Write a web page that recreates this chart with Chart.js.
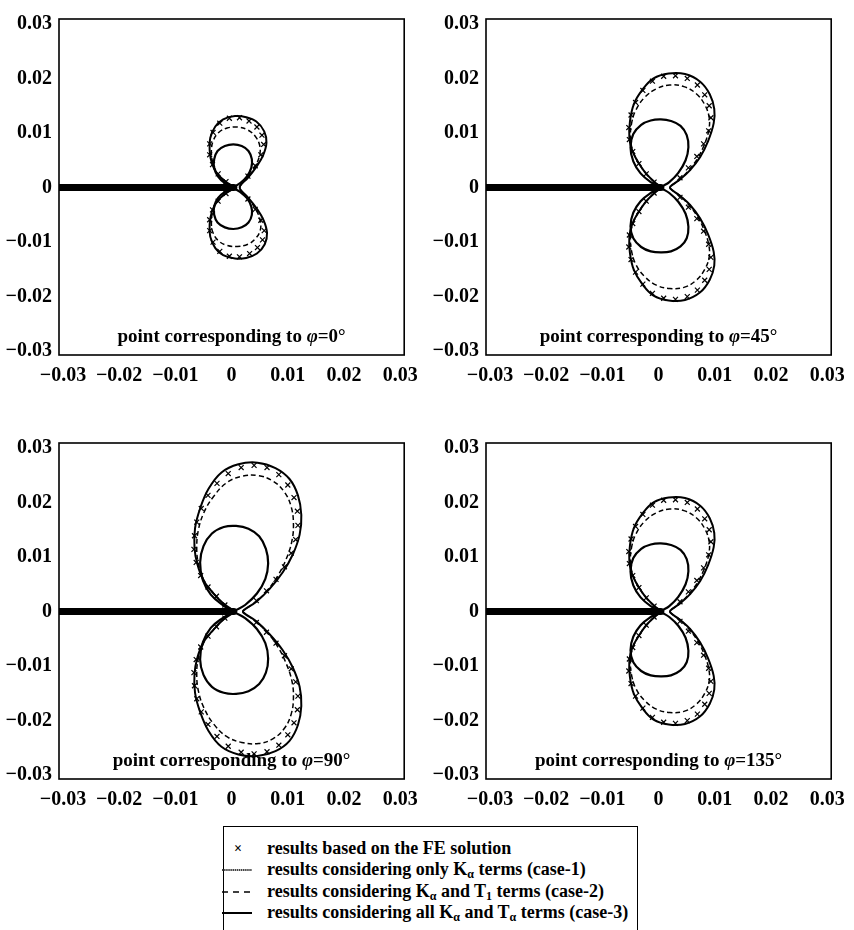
<!DOCTYPE html>
<html>
<head>
<meta charset="utf-8">
<script src="https://cdn.jsdelivr.net/npm/chart.js@4.4.0/dist/chart.umd.min.js"></script>
<style>
    body { margin: 0; background: #fff; overflow: hidden; width: 854px; height: 930px; position: relative;
           font-family: "Liberation Serif", "Times New Roman", serif; color: #000; }
    canvas { position: absolute; }
    #legend { position: absolute; left: 223px; top: 826px; width: 413px; height: 120px;
              border: 1.5px solid #000; border-bottom: none; font-weight: bold; font-size: 18px; }
    .row { position: absolute; left: 0; width: 100%; height: 21px; line-height: 21px; }
    .sample { position: absolute; left: -2px; top: 0; width: 32px; height: 21px; overflow: hidden; }
    .txt { position: absolute; left: 43px; top: 0; white-space: nowrap; }
    sub { font-size: 12px; line-height: 0; vertical-align: -3px; }
</style>
</head>
<body>
<canvas id="p0" width="427" height="390" style="left:0;top:0"></canvas>
<canvas id="p45" width="427" height="390" style="left:427px;top:0"></canvas>
<canvas id="p90" width="427" height="390" style="left:0;top:424px"></canvas>
<canvas id="p135" width="427" height="390" style="left:427px;top:424px"></canvas>

<div id="legend">
    <div class="row" style="top:11px">
        <div class="sample" style="text-align:center;font-size:14px">×</div>
        <div class="txt">results based on the FE solution</div>
    </div>
    <div class="row" style="top:32px">
        <svg class="sample" width="32" height="21" viewBox="0 0 32 21"><line x1="0" y1="11" x2="30" y2="11" stroke="#444" stroke-width="2.2" stroke-dasharray="1.5,0.6"/></svg>
        <div class="txt">results considering only K<sub>α</sub> terms (case-1)</div>
    </div>
    <div class="row" style="top:54px">
        <svg class="sample" width="32" height="21" viewBox="0 0 32 21"><line x1="0" y1="11" x2="32" y2="11" stroke="#000" stroke-width="1.6" stroke-dasharray="6,5"/></svg>
        <div class="txt">results considering K<sub>α</sub> and T<sub>1</sub> terms (case-2)</div>
    </div>
    <div class="row" style="top:75px">
        <svg class="sample" width="32" height="21" viewBox="0 0 32 21"><line x1="0" y1="11" x2="30" y2="11" stroke="#000" stroke-width="2"/></svg>
        <div class="txt">results considering all K<sub>α</sub> and T<sub>α</sub> terms (case-3)</div>
    </div>
</div>

<script>
// Axis ticks (same on every panel)
const tickValues = [-0.03, -0.02, -0.01, 0, 0.01, 0.02, 0.03];
const tickLabels = ['−0.03', '−0.02', '−0.01', '0', '0.01', '0.02', '0.03'];

// Crack faces behind the tip
const crack = [[-0.0307, 0], [0.0004, 0]];

// φ = 0°
const phi0Case1 = [[0.0003,0.0001],[-0.0012,0.0008],[-0.0024,0.0020],[-0.0031,0.0036],[-0.0031,0.0052],[-0.0025,0.0067],[-0.0012,0.0076],[0.0003,0.0079],[0.0018,0.0076],[0.0030,0.0067],[0.0036,0.0052],[0.0035,0.0036],[0.0027,0.0020],[0.0015,0.0008],[0.0004,0.0001],
    [0.0004,-0.0001],[0.0015,-0.0008],[0.0027,-0.0019],[0.0035,-0.0035],[0.0036,-0.0050],[0.0030,-0.0064],[0.0018,-0.0073],[0.0003,-0.0076],[-0.0012,-0.0073],[-0.0025,-0.0064],[-0.0031,-0.0050],[-0.0031,-0.0034],[-0.0024,-0.0019],[-0.0012,-0.0008],[0.0003,-0.0001]];
const phi0Case2 = [[0.0003,0.0002],[-0.0012,0.0012],[-0.0025,0.0026],[-0.0033,0.0044],[-0.0036,0.0066],[-0.0033,0.0085],[-0.0023,0.0101],[-0.0008,0.0109],[0.0010,0.0111],[0.0028,0.0106],[0.0042,0.0094],[0.0050,0.0077],[0.0050,0.0060],[0.0043,0.0041],[0.0031,0.0022],[0.0016,0.0004],
    [0.0016,-0.0004],[0.0031,-0.0022],[0.0044,-0.0042],[0.0051,-0.0061],[0.0051,-0.0078],[0.0043,-0.0093],[0.0029,-0.0104],[0.0010,-0.0108],[-0.0008,-0.0106],[-0.0023,-0.0098],[-0.0033,-0.0083],[-0.0036,-0.0064],[-0.0033,-0.0043],[-0.0025,-0.0025],[-0.0012,-0.0012],[0.0003,-0.0002]];
const phi0Case3 = [[0.0003,0.0002],[-0.0012,0.0012],[-0.0026,0.0026],[-0.0035,0.0044],[-0.0039,0.0068],[-0.0038,0.0091],[-0.0029,0.0112],[-0.0015,0.0125],[0.0006,0.0131],[0.0026,0.0129],[0.0044,0.0121],[0.0058,0.0103],[0.0062,0.0082],[0.0056,0.0059],[0.0044,0.0038],[0.0029,0.0018],[0.0015,0.0003],
    [0.0015,-0.0003],[0.0029,-0.0018],[0.0045,-0.0039],[0.0057,-0.0060],[0.0063,-0.0083],[0.0059,-0.0104],[0.0045,-0.0121],[0.0026,-0.0129],[0.0006,-0.0130],[-0.0015,-0.0124],[-0.0029,-0.0111],[-0.0038,-0.0090],[-0.0039,-0.0067],[-0.0035,-0.0044],[-0.0026,-0.0026],[-0.0012,-0.0012],[0.0003,-0.0002]];
const phi0FE = [[-0.0010,0.0011],[-0.0024,0.0025],[-0.0034,0.0042],[-0.0039,0.0060],[-0.0039,0.0080],[-0.0033,0.0101],[-0.0021,0.0118],[-0.0004,0.0127],[0.0014,0.0128],[0.0031,0.0122],[0.0045,0.0111],[0.0054,0.0096],[0.0057,0.0079],[0.0052,0.0060],[0.0042,0.0040],[0.0029,0.0021],
    [0.0029,-0.0021],[0.0042,-0.0040],[0.0052,-0.0060],[0.0058,-0.0079],[0.0055,-0.0096],[0.0046,-0.0110],[0.0032,-0.0121],[0.0014,-0.0127],[-0.0004,-0.0126],[-0.0021,-0.0117],[-0.0033,-0.0100],[-0.0039,-0.0079],[-0.0039,-0.0059],[-0.0034,-0.0041],[-0.0024,-0.0025],[-0.0010,-0.0011]];

// φ = 45° (φ = 135° reads the same)
const phi45Case1 = [[0.0003,0.0001],[-0.0014,0.0010],[-0.0032,0.0026],[-0.0045,0.0048],[-0.0050,0.0074],[-0.0045,0.0098],[-0.0031,0.0115],[-0.0014,0.0123],[0.0004,0.0125],[0.0022,0.0122],[0.0039,0.0113],[0.0050,0.0096],[0.0053,0.0074],[0.0048,0.0050],[0.0035,0.0027],[0.0019,0.0010],[0.0005,0.0001],
    [0.0005,-0.0001],[0.0019,-0.0010],[0.0035,-0.0026],[0.0048,-0.0048],[0.0053,-0.0072],[0.0050,-0.0093],[0.0039,-0.0108],[0.0022,-0.0117],[0.0004,-0.0119],[-0.0014,-0.0117],[-0.0031,-0.0109],[-0.0045,-0.0093],[-0.0050,-0.0071],[-0.0045,-0.0046],[-0.0032,-0.0025],[-0.0014,-0.0010],[0.0003,-0.0001]];
const phi45Case2 = [[0.0003,0.0002],[-0.0006,0.0009],[-0.0021,0.0024],[-0.0035,0.0044],[-0.0046,0.0068],[-0.0050,0.0091],[-0.0048,0.0118],[-0.0040,0.0143],[-0.0025,0.0165],[-0.0004,0.0181],[0.0020,0.0188],[0.0045,0.0185],[0.0067,0.0172],[0.0082,0.0152],[0.0090,0.0128],[0.0089,0.0104],[0.0081,0.0078],[0.0069,0.0053],[0.0053,0.0031],[0.0037,0.0014],[0.0021,0.0002],
    [0.0021,-0.0002],[0.0037,-0.0014],[0.0053,-0.0031],[0.0069,-0.0053],[0.0081,-0.0078],[0.0089,-0.0104],[0.0090,-0.0127],[0.0082,-0.0150],[0.0067,-0.0170],[0.0045,-0.0183],[0.0020,-0.0185],[-0.0004,-0.0179],[-0.0025,-0.0163],[-0.0040,-0.0142],[-0.0048,-0.0117],[-0.0050,-0.0090],[-0.0046,-0.0067],[-0.0035,-0.0044],[-0.0021,-0.0024],[-0.0006,-0.0009],[0.0003,-0.0002]];
const phi45Case3 = [[0.0003,0.0002],[-0.0006,0.0009],[-0.0021,0.0024],[-0.0035,0.0044],[-0.0047,0.0068],[-0.0052,0.0091],[-0.0051,0.0121],[-0.0044,0.0153],[-0.0029,0.0179],[-0.0009,0.0200],[0.0018,0.0209],[0.0047,0.0208],[0.0074,0.0194],[0.0091,0.0171],[0.0099,0.0144],[0.0098,0.0118],[0.0088,0.0085],[0.0074,0.0056],[0.0056,0.0032],[0.0038,0.0015],[0.0021,0.0002],
    [0.0021,-0.0002],[0.0038,-0.0015],[0.0056,-0.0032],[0.0074,-0.0057],[0.0088,-0.0086],[0.0098,-0.0118],[0.0099,-0.0143],[0.0091,-0.0169],[0.0074,-0.0192],[0.0047,-0.0206],[0.0018,-0.0207],[-0.0009,-0.0198],[-0.0029,-0.0177],[-0.0044,-0.0151],[-0.0051,-0.0120],[-0.0052,-0.0090],[-0.0047,-0.0067],[-0.0035,-0.0044],[-0.0021,-0.0024],[-0.0006,-0.0009],[0.0003,-0.0002]];
const phi45FE = [[-0.0008,0.0010],[-0.0022,0.0025],[-0.0035,0.0044],[-0.0046,0.0066],[-0.0052,0.0088],[-0.0053,0.0110],[-0.0049,0.0133],[-0.0041,0.0156],[-0.0028,0.0178],[-0.0011,0.0195],[0.0009,0.0204],[0.0030,0.0205],[0.0051,0.0200],[0.0069,0.0188],[0.0082,0.0170],[0.0090,0.0150],[0.0093,0.0128],[0.0089,0.0104],[0.0080,0.0080],[0.0068,0.0057],[0.0053,0.0036],[0.0038,0.0018],
    [0.0038,-0.0018],[0.0053,-0.0036],[0.0068,-0.0057],[0.0080,-0.0080],[0.0089,-0.0104],[0.0093,-0.0128],[0.0090,-0.0150],[0.0082,-0.0170],[0.0069,-0.0188],[0.0051,-0.0200],[0.0030,-0.0205],[0.0009,-0.0203],[-0.0011,-0.0194],[-0.0028,-0.0177],[-0.0041,-0.0155],[-0.0049,-0.0132],[-0.0053,-0.0109],[-0.0052,-0.0087],[-0.0046,-0.0066],[-0.0035,-0.0044],[-0.0022,-0.0025],[-0.0008,-0.0010]];

// φ = 90°
const phi90Case1 = [[0.0003,0.0001],[-0.0016,0.0012],[-0.0037,0.0031],[-0.0051,0.0057],[-0.0056,0.0090],[-0.0050,0.0120],[-0.0035,0.0143],[-0.0014,0.0155],[0.0008,0.0157],[0.0030,0.0152],[0.0049,0.0138],[0.0061,0.0115],[0.0065,0.0088],[0.0060,0.0060],[0.0045,0.0033],[0.0024,0.0012],[0.0005,0.0001],
    [0.0005,-0.0001],[0.0024,-0.0012],[0.0045,-0.0032],[0.0060,-0.0058],[0.0065,-0.0086],[0.0061,-0.0112],[0.0049,-0.0133],[0.0030,-0.0146],[0.0008,-0.0151],[-0.0014,-0.0149],[-0.0035,-0.0138],[-0.0050,-0.0116],[-0.0056,-0.0088],[-0.0051,-0.0056],[-0.0037,-0.0030],[-0.0016,-0.0012],[0.0003,-0.0001]];
const phi90Case2 = [[0.0003,0.0002],[-0.0015,0.0015],[-0.0032,0.0033],[-0.0049,0.0057],[-0.0059,0.0087],[-0.0062,0.0117],[-0.0059,0.0150],[-0.0049,0.0182],[-0.0032,0.0211],[-0.0009,0.0236],[0.0018,0.0248],[0.0048,0.0249],[0.0074,0.0239],[0.0094,0.0219],[0.0106,0.0192],[0.0110,0.0160],[0.0107,0.0128],[0.0097,0.0096],[0.0083,0.0067],[0.0064,0.0039],[0.0042,0.0017],[0.0021,0.0002],
    [0.0021,-0.0002],[0.0042,-0.0017],[0.0064,-0.0039],[0.0083,-0.0066],[0.0097,-0.0095],[0.0107,-0.0126],[0.0110,-0.0157],[0.0106,-0.0188],[0.0094,-0.0214],[0.0074,-0.0233],[0.0048,-0.0242],[0.0018,-0.0240],[-0.0009,-0.0229],[-0.0032,-0.0206],[-0.0049,-0.0177],[-0.0059,-0.0146],[-0.0062,-0.0114],[-0.0059,-0.0085],[-0.0049,-0.0056],[-0.0032,-0.0033],[-0.0015,-0.0015],[0.0003,-0.0002]];
const phi90Case3 = [[0.0003,0.0002],[-0.0015,0.0015],[-0.0032,0.0033],[-0.0050,0.0057],[-0.0061,0.0087],[-0.0066,0.0117],[-0.0065,0.0153],[-0.0056,0.0189],[-0.0041,0.0225],[-0.0018,0.0255],[0.0012,0.0270],[0.0046,0.0273],[0.0078,0.0263],[0.0103,0.0243],[0.0118,0.0213],[0.0124,0.0177],[0.0121,0.0141],[0.0109,0.0105],[0.0091,0.0072],[0.0068,0.0042],[0.0044,0.0018],[0.0021,0.0002],
    [0.0021,-0.0002],[0.0044,-0.0018],[0.0068,-0.0042],[0.0091,-0.0071],[0.0109,-0.0103],[0.0121,-0.0138],[0.0124,-0.0173],[0.0118,-0.0208],[0.0103,-0.0237],[0.0078,-0.0256],[0.0046,-0.0265],[0.0012,-0.0262],[-0.0018,-0.0248],[-0.0041,-0.0219],[-0.0056,-0.0184],[-0.0065,-0.0149],[-0.0066,-0.0114],[-0.0061,-0.0085],[-0.0050,-0.0056],[-0.0032,-0.0033],[-0.0015,-0.0015],[0.0003,-0.0002]];
const phi90FE = [[-0.0012,0.0012],[-0.0027,0.0028],[-0.0042,0.0045],[-0.0055,0.0066],[-0.0063,0.0090],[-0.0067,0.0114],[-0.0066,0.0139],[-0.0062,0.0164],[-0.0054,0.0189],[-0.0042,0.0213],[-0.0026,0.0235],[-0.0006,0.0253],[0.0017,0.0264],[0.0040,0.0268],[0.0063,0.0264],[0.0084,0.0251],[0.0100,0.0232],[0.0111,0.0209],[0.0117,0.0184],[0.0118,0.0158],[0.0114,0.0132],[0.0106,0.0107],[0.0094,0.0082],[0.0079,0.0059],[0.0062,0.0038],[0.0044,0.0020],
    [0.0044,-0.0020],[0.0062,-0.0038],[0.0079,-0.0058],[0.0094,-0.0081],[0.0106,-0.0105],[0.0114,-0.0129],[0.0118,-0.0155],[0.0117,-0.0180],[0.0111,-0.0204],[0.0100,-0.0226],[0.0084,-0.0245],[0.0063,-0.0257],[0.0040,-0.0261],[0.0017,-0.0258],[-0.0006,-0.0247],[-0.0026,-0.0229],[-0.0042,-0.0207],[-0.0054,-0.0184],[-0.0062,-0.0160],[-0.0066,-0.0136],[-0.0067,-0.0112],[-0.0063,-0.0088],[-0.0055,-0.0065],[-0.0042,-0.0045],[-0.0027,-0.0028],[-0.0012,-0.0012]];

const SERIF = '"Liberation Serif", "Times New Roman", serif';

// Frame around the plot area + the label written inside it
const framePlugin = {
    id: 'frame',
    afterDraw(chart, args, opts) {
        const { ctx, chartArea: a } = chart;
        ctx.save();
        ctx.strokeStyle = '#000';
        ctx.lineWidth = 1.6;
        ctx.strokeRect(a.left, a.top, a.right - a.left, a.bottom - a.top);

        const parts = [
            ['point corresponding to ', 'bold 19px ' + SERIF],
            ['φ', 'italic bold 19px ' + SERIF],
            ['=' + opts.phi, 'bold 19px ' + SERIF]
        ];
        let total = 0;
        parts.forEach(p => { ctx.font = p[1]; total += ctx.measureText(p[0]).width; });
        let x = chart.scales.x.getPixelForValue(0) - total / 2;
        const y = a.bottom - 18;
        ctx.fillStyle = '#000';
        ctx.textBaseline = 'middle';
        parts.forEach(p => {
            ctx.font = p[1];
            ctx.fillText(p[0], x, y);
            x += ctx.measureText(p[0]).width;
        });
        ctx.restore();
    }
};

function toPoints(arr) {
    return arr.map(p => ({ x: p[0], y: p[1] }));
}

function axisOptions(isX) {
    return {
        type: 'linear',
        min: -0.0307,
        max: isX ? 0.0307 : 0.0309,
        grid: { display: false, drawTicks: false },
        border: { display: false },
        afterBuildTicks: axis => { axis.ticks = tickValues.map(v => ({ value: v })); },
        afterFit: axis => { if (isX) axis.height = 35; else axis.width = 59; },
        ticks: {
            autoSkip: false,
            maxRotation: 0,
            padding: isX ? 9 : 7,
            color: '#000',
            font: { family: SERIF, size: 20, weight: 'bold' },
            callback: (value, index) => tickLabels[index]
        }
    };
}

function initPanel(id, phi, case1, case2, case3, fe) {
    const ctx = document.getElementById(id);
    if (!ctx) return;

    new Chart(ctx.getContext('2d'), {
        type: 'scatter',
        data: {
            datasets: [
                {
                    label: 'FE',
                    data: toPoints(fe),
                    pointStyle: 'crossRot',
                    pointRadius: 3.5,
                    borderColor: '#000',
                    borderWidth: 1.2,
                    showLine: false
                },
                {
                    label: 'case-3',
                    data: toPoints(case3),
                    showLine: true, pointRadius: 0, tension: 0.4,
                    borderColor: '#000', borderWidth: 2
                },
                {
                    label: 'case-2',
                    data: toPoints(case2),
                    showLine: true, pointRadius: 0, tension: 0.4,
                    borderColor: '#000', borderWidth: 1.5, borderDash: [5, 3]
                },
                {
                    label: 'case-1',
                    data: toPoints(case1),
                    showLine: true, pointRadius: 0, tension: 0.4,
                    borderColor: '#000', borderWidth: 2.2
                },
                {
                    label: 'crack',
                    data: toPoints(crack),
                    showLine: true, pointRadius: 0,
                    borderColor: '#000', borderWidth: 7, borderCapStyle: 'round'
                }
            ]
        },
        options: {
            responsive: false,
            animation: false,
            layout: { padding: { left: 0, top: 6, right: 20, bottom: 0 } },
            plugins: {
                legend: { display: false },
                tooltip: { enabled: false },
                frame: { phi: phi }
            },
            scales: {
                x: axisOptions(true),
                y: axisOptions(false)
            }
        },
        plugins: [framePlugin]
    });
}

document.addEventListener('DOMContentLoaded', () => {
    initPanel('p0', '0°', phi0Case1, phi0Case2, phi0Case3, phi0FE);
    initPanel('p45', '45°', phi45Case1, phi45Case2, phi45Case3, phi45FE);
    initPanel('p90', '90°', phi90Case1, phi90Case2, phi90Case3, phi90FE);
    initPanel('p135', '135°', phi45Case1, phi45Case2, phi45Case3, phi45FE);
});
</script>
</body>
</html>
